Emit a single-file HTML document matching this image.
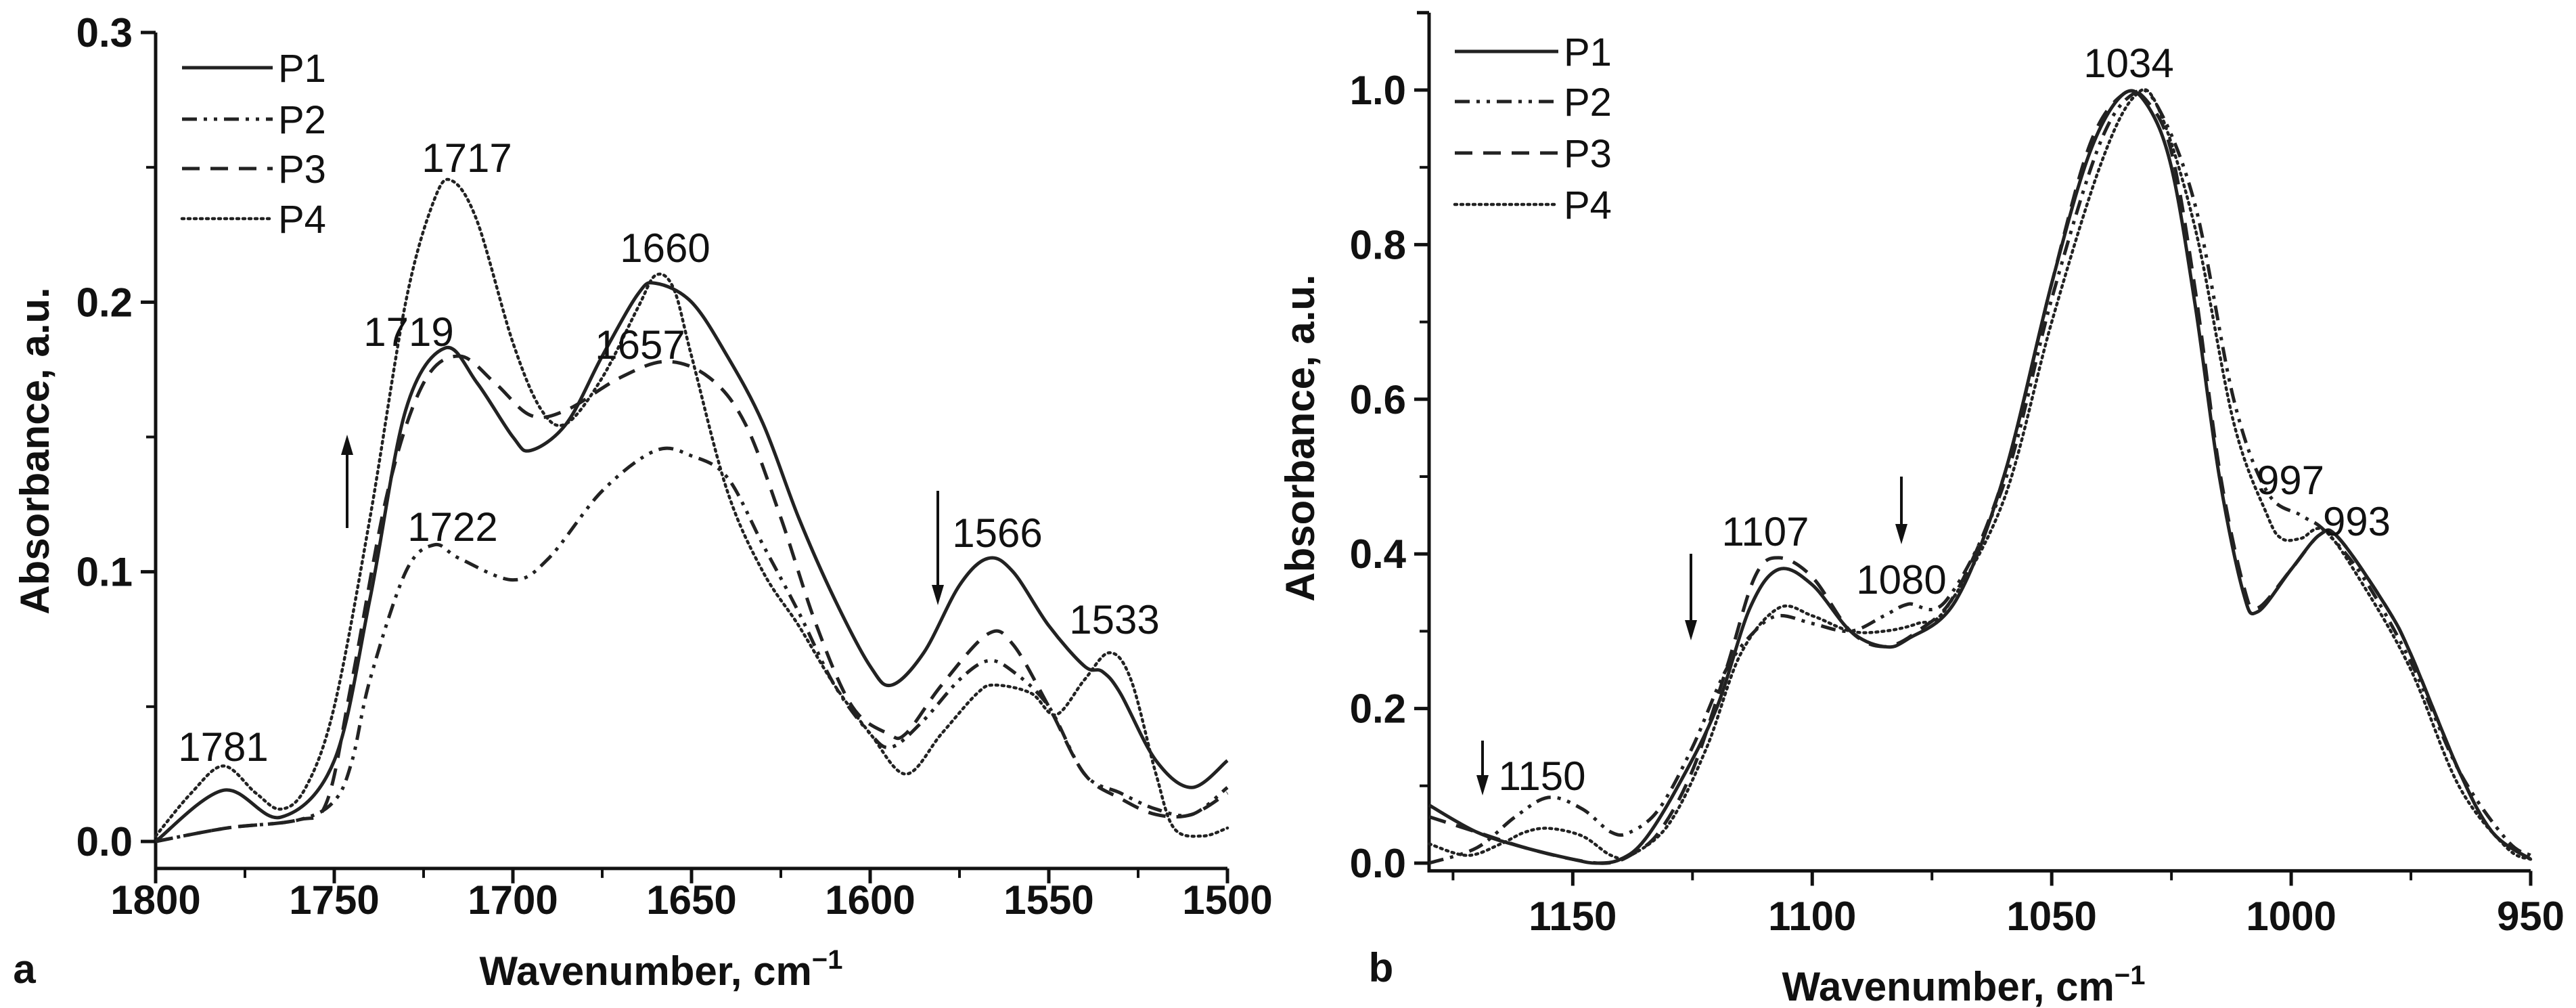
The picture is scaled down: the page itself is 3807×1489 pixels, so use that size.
<!DOCTYPE html>
<html><head><meta charset="utf-8"><style>
html,body{margin:0;padding:0;background:#fff;}
svg{display:block;font-family:"Liberation Sans",Arial,sans-serif;}
.tk{font-weight:bold;font-size:60px;fill:#111;}
.tt{font-weight:bold;font-size:60px;fill:#111;}
.an{font-size:60px;fill:#111;}
.lg{font-size:58px;fill:#111;}
</style></head><body>
<svg id="fig" width="3807" height="1489" viewBox="0 0 3807 1489" xmlns="http://www.w3.org/2000/svg">
<g id="pa"></g>
<g id="pb"></g>
</svg>
<script>
// Panel a data
const aP1w=[1800,1781,1765,1750,1740,1730,1719,1710,1700,1695,1685,1675,1665,1660,1650,1640,1630,1620,1610,1600,1594,1585,1575,1567,1560,1550,1540,1535,1530,1520,1510,1500];
const aP1v=[0.0,0.019,0.009,0.03,0.09,0.16,0.183,0.17,0.15,0.145,0.155,0.18,0.203,0.207,0.2,0.18,0.155,0.12,0.09,0.065,0.058,0.07,0.095,0.105,0.1,0.08,0.065,0.063,0.055,0.03,0.02,0.03];
const aP2w=[1800,1780,1760,1750,1745,1740,1730,1722,1715,1700,1690,1675,1660,1650,1640,1630,1620,1610,1600,1594,1585,1575,1567,1560,1550,1540,1530,1520,1510,1500];
const aP2v=[0.0,0.005,0.008,0.015,0.03,0.06,0.1,0.11,0.105,0.097,0.105,0.13,0.145,0.143,0.135,0.11,0.085,0.058,0.04,0.035,0.045,0.06,0.067,0.063,0.05,0.025,0.018,0.012,0.01,0.02];
const aP3w=[1800,1780,1760,1752,1745,1735,1725,1715,1705,1695,1685,1670,1657,1645,1635,1625,1615,1605,1595,1590,1580,1567,1560,1550,1540,1530,1520,1510,1500];
const aP3v=[0.0,0.005,0.008,0.015,0.06,0.13,0.17,0.18,0.17,0.158,0.16,0.172,0.178,0.172,0.155,0.12,0.08,0.05,0.04,0.04,0.058,0.077,0.073,0.05,0.025,0.016,0.01,0.01,0.018];
const aP4w=[1800,1790,1781,1772,1765,1758,1750,1740,1730,1722,1717,1710,1700,1692,1685,1675,1665,1660,1655,1650,1640,1630,1620,1610,1600,1590,1580,1570,1565,1555,1548,1540,1533,1527,1520,1515,1507,1500];
const aP4v=[0.002,0.018,0.028,0.018,0.012,0.02,0.05,0.12,0.2,0.238,0.245,0.23,0.185,0.16,0.155,0.172,0.198,0.21,0.205,0.18,0.13,0.1,0.08,0.058,0.04,0.025,0.04,0.055,0.058,0.055,0.047,0.06,0.07,0.06,0.025,0.005,0.002,0.005];
const aXTicks=[1800,1750,1700,1650,1600,1550,1500];
const aYTicks=[0.0,0.1,0.2,0.3];
// Panel b data
const bP1w=[1180,1170,1160,1150,1145,1140,1135,1128,1120,1113,1107,1100,1092,1085,1080,1070,1060,1050,1042,1035,1030,1025,1020,1015,1010,1007,1000,994,990,980,975,965,958,950];
const bP1v=[0.075,0.04,0.02,0.005,0.0,0.005,0.03,0.1,0.2,0.33,0.38,0.36,0.3,0.28,0.29,0.34,0.5,0.75,0.92,0.995,0.98,0.9,0.72,0.5,0.35,0.325,0.38,0.425,0.42,0.33,0.27,0.12,0.04,0.005];
const bP2w=[1180,1170,1162,1155,1148,1142,1138,1132,1125,1118,1112,1107,1100,1092,1085,1080,1072,1060,1050,1040,1033,1028,1020,1012,1005,998,993,985,975,965,955,950];
const bP2v=[0.0,0.02,0.06,0.085,0.07,0.04,0.04,0.07,0.15,0.25,0.3,0.32,0.31,0.3,0.32,0.335,0.34,0.49,0.73,0.93,0.995,0.98,0.85,0.6,0.48,0.45,0.43,0.37,0.26,0.12,0.03,0.01];
const bP3w=[1180,1170,1160,1150,1143,1138,1132,1125,1118,1112,1107,1100,1092,1085,1078,1070,1060,1050,1042,1035,1030,1025,1020,1015,1010,1007,1000,994,990,980,975,965,958,950];
const bP3v=[0.06,0.04,0.02,0.005,0.0,0.01,0.04,0.12,0.25,0.37,0.395,0.37,0.3,0.28,0.3,0.35,0.5,0.75,0.93,0.995,0.985,0.92,0.74,0.51,0.36,0.33,0.38,0.425,0.42,0.33,0.27,0.12,0.04,0.005];
const bP4w=[1180,1172,1165,1160,1155,1148,1142,1138,1130,1122,1115,1107,1100,1092,1085,1078,1072,1060,1050,1040,1033,1028,1020,1012,1005,1002,998,993,985,975,965,955,950];
const bP4v=[0.025,0.01,0.025,0.04,0.045,0.035,0.01,0.01,0.05,0.15,0.27,0.33,0.32,0.3,0.3,0.31,0.33,0.47,0.7,0.9,0.99,0.98,0.82,0.57,0.45,0.42,0.42,0.43,0.36,0.25,0.1,0.02,0.005];
const bXTicks=[1150,1100,1050,1000,950];
const bYTicks=[0.0,0.2,0.4,0.6,0.8,1.0];
const seriesNames=["P1","P2","P3","P4"];

const NS="http://www.w3.org/2000/svg";
const styles=[{dash:null,w:5},{dash:"22 10 5 10 5 10",w:5},{dash:"26 16",w:5},{dash:"3 6",w:4.5}];
function mk(parent,tag,attrs){const e=document.createElementNS(NS,tag);for(const k in attrs)e.setAttribute(k,attrs[k]);parent.appendChild(e);return e;}
function smooth(pts){let d="M"+pts[0][0].toFixed(1)+","+pts[0][1].toFixed(1);
 for(let i=0;i<pts.length-1;i++){const p0=pts[Math.max(0,i-1)],p1=pts[i],p2=pts[i+1],p3=pts[Math.min(pts.length-1,i+2)];
 const c1=[p1[0]+(p2[0]-p0[0])/6,p1[1]+(p2[1]-p0[1])/6],c2=[p2[0]-(p3[0]-p1[0])/6,p2[1]-(p3[1]-p1[1])/6];
 d+="C"+c1[0].toFixed(1)+","+c1[1].toFixed(1)+" "+c2[0].toFixed(1)+","+c2[1].toFixed(1)+" "+p2[0].toFixed(1)+","+p2[1].toFixed(1);}return d;}
function txt(g,x,y,s,cls,anchor){const t=mk(g,"text",{x:x,y:y,class:cls,"text-anchor":anchor||"middle"});t.textContent=s;return t;}

function panel(g,cfg){
 const X=w=>cfg.x0+(cfg.xmin-w)/(cfg.xmin-cfg.xmax)*(cfg.x1-cfg.x0);
 const Y=v=>cfg.yz+(cfg.yt-cfg.yz)*(v/cfg.ytv);
 const ybot=Y(cfg.ymin), ytop=Y(cfg.ymax);
 const ax=mk(g,"path",{d:`M${cfg.x0},${ytop}V${ybot}H${cfg.x1}`,fill:"none",stroke:"#111","stroke-width":5});
 
 mk(g,"line",{x1:cfg.x0-18,y1:ytop,x2:cfg.x0,y2:ytop,stroke:"#111","stroke-width":5});
 cfg.xt.forEach(w=>{const x=X(w);
  const l=mk(g,"line",{x1:x,y1:ybot,x2:x,y2:ybot+22,stroke:"#111","stroke-width":5});
  
  const m=X(w+25); if(m>=cfg.x0+2) mk(g,"line",{x1:m,y1:ybot,x2:m,y2:ybot+14,stroke:"#111","stroke-width":4});
  const t=txt(g,x,cfg.xlabY,String(w),"tk");
  });
 cfg.yt2.forEach(v=>{const y=Y(v);
  const l=mk(g,"line",{x1:cfg.x0-22,y1:y,x2:cfg.x0,y2:y,stroke:"#111","stroke-width":5});
  
  const ym=Y(v+cfg.ystep/2); if(ym>ytop) mk(g,"line",{x1:cfg.x0-14,y1:ym,x2:cfg.x0,y2:ym,stroke:"#111","stroke-width":4});
  const t=txt(g,cfg.x0-34,y+21,v.toFixed(1),"tk","end");
  });
 cfg.series.forEach((s,i)=>{const pts=s[0].map((w,k)=>[X(w),Y(s[1][k])]);
  const p=mk(g,"path",{d:smooth(pts),fill:"none",stroke:"#222","stroke-width":styles[i].w,"stroke-linecap":i==3?"round":"butt"});
  if(styles[i].dash)p.setAttribute("stroke-dasharray",styles[i].dash);
  });
 cfg.legRows.forEach((y,i)=>{const lg=mk(g,"g",{});
  
  const l=mk(lg,"line",{x1:cfg.legX0,y1:y,x2:cfg.legX1,y2:y,stroke:"#222","stroke-width":styles[i].w,"stroke-linecap":i==3?"round":"butt"});
  if(styles[i].dash)l.setAttribute("stroke-dasharray",styles[i].dash);
  txt(lg,cfg.legX1+8,y+21,seriesNames[i],"lg","start");});
 const xt=txt(g,cfg.xtitle[0],cfg.xtitle[1],"Wavenumber, cm","tt");
 const sup=document.createElementNS(NS,"tspan");sup.setAttribute("dy","-24");sup.setAttribute("font-size","40");sup.textContent="\u22121";xt.appendChild(sup);
 
 const yt=txt(g,0,0,"Absorbance, a.u.","tt");yt.setAttribute("transform",`translate(${cfg.ytitle[0]},${cfg.ytitle[1]}) rotate(-90)`);
 
 const pl=txt(g,cfg.plab[0],cfg.plab[1],cfg.plab[2],"tt");pl.setAttribute("font-size","70");pl.setAttribute("font-weight",cfg.plab[2]=="a"?"normal":"bold");
 
 cfg.ann.forEach(a=>{const t=txt(g,a[0],a[1]+21,a[2],"an");});
 cfg.arrows.forEach(a=>{const ag=mk(g,"g",{});
  const up=a[2]<a[1];mk(ag,"line",{x1:a[0],y1:a[1],x2:a[0],y2:a[2]+(up?20:-20),stroke:"#111","stroke-width":4});
  const h=a[2],d=up?30:-30;mk(ag,"path",{d:`M${a[0]},${h}L${a[0]-9},${h+d}L${a[0]+9},${h+d}Z`,fill:"#111"});});
}
panel(document.getElementById("pa"),{x0:230,x1:1814,xmin:1800,xmax:1500,yz:1243,yt:48,ytv:0.3,ymin:-0.01,ymax:0.3,ystep:0.1,
 xt:aXTicks,yt2:aYTicks,xlabY:1350,series:[[aP1w,aP1v],[aP2w,aP2v],[aP3w,aP3v],[aP4w,aP4v]],
 legRows:[100,176,249,323],legX0:269,legX1:403,xtitle:[977,1455],ytitle:[72,666],plab:[36,1452,"a"],
 ann:[[330,1103,"1781"],[690,233,"1717"],[983,366,"1660"],[604,490,"1719"],[946,509,"1657"],[669,778,"1722"],[1474,787,"1566"],[1647,915,"1533"]],
 arrows:[[513,780,642],[1386,725,894]]});
panel(document.getElementById("pb"),{x0:2112,x1:3740,xmin:1180,xmax:950,yz:1275,yt:133,ytv:1.0,ymin:-0.01,ymax:1.1,ystep:0.2,
 xt:bXTicks,yt2:bYTicks,xlabY:1374,series:[[bP1w,bP1v],[bP2w,bP2v],[bP3w,bP3v],[bP4w,bP4v]],
 legRows:[76,150,226,302],legX0:2150,legX1:2303,xtitle:[2902,1478],ytitle:[1942,647],plab:[2041,1450,"b"],
 ann:[[3146,93,"1034"],[2609,785,"1107"],[2810,856,"1080"],[3385,709,"997"],[3483,770,"993"],[2279,1146,"1150"]],
 arrows:[[2191,1094,1175],[2499,818,946],[2810,704,804]]});
</script>
</body></html>
